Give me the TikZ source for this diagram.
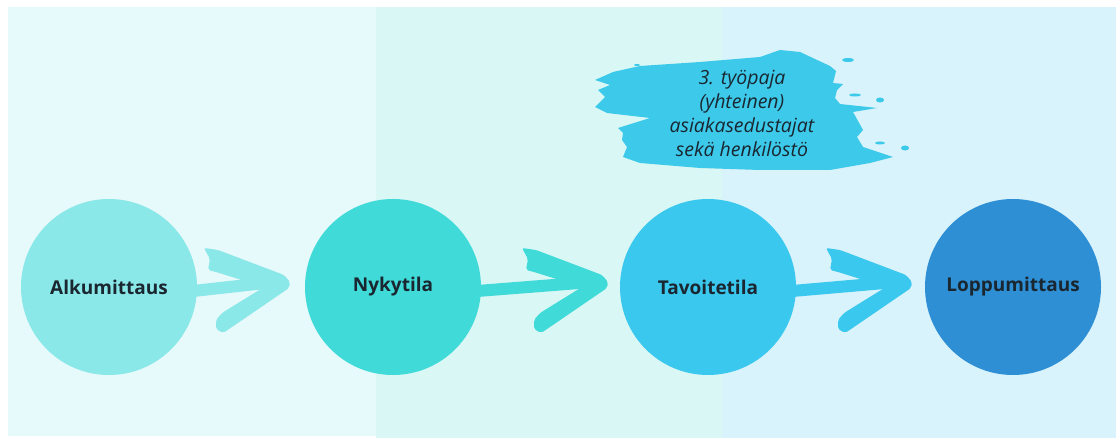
\documentclass[tikz,border=0pt]{standalone}
\usepackage{fontspec}
\setmainfont{Open Sans}
\usetikzlibrary{calc}

\definecolor{bgleft}{HTML}{E6F9FB}
\definecolor{bgmid}{HTML}{D9F7F5}
\definecolor{bgright}{HTML}{D8F3FB}
\definecolor{cone}{HTML}{8AE8E8}
\definecolor{ctwo}{HTML}{40DAD8}
\definecolor{cthree}{HTML}{3AC8EE}
\definecolor{cfour}{HTML}{2E8FD4}
\definecolor{brush}{HTML}{3CC9EA}
\definecolor{inkdark}{HTML}{1A2630}

\begin{document}
\begin{tikzpicture}[x=1pt, y=-1pt,
    phase/.style={circle, minimum size=176pt, inner sep=0pt, text=inkdark,
        font=\bfseries\fontsize{19}{22}\selectfont},
    shaft/.style={line width=12pt, line cap=round}]
    % Frame and background bands
    \useasboundingbox (0,0) rectangle (1116,438);
    \fill[white] (0,0) rectangle (1116,438);
    \fill[bgleft] (8,7) rectangle (376,436);
    \fill[bgmid] (376,7) rectangle (722,438);
    \fill[bgright] (722,7) rectangle (1116,438);

    % Circles
    \node[phase, fill=cone] (alku) at (109,287) {Alkumittaus};
    \node[phase, fill=ctwo] (nyky) at (393,287) {Nykytila};
    \node[phase, fill=cthree] (tavo) at (708,287) {Tavoitetila};
    \node[phase, fill=cfour] (loppu) at (1013,287) {Loppumittaus};

    % Brush arrows
    \foreach \a/\t/\c in {alku/286/cone, nyky/604/ctwo, tavo/908/cthree}
    {
        \coordinate (tip-\a) at (\t,283);
        \draw[shaft, \c] ($(\a.east)+(-4,4)$) -- ($(tip-\a)+(-12,-1)$);
        \fill[\c, shift={(tip-\a)}, rounded corners=2pt]
            (-82,-35) -- (-68,-33) -- (-2,-8) -- (4,-1) -- (3,5) -- (-54,44)
            -- (-63,50) -- (-70,46) -- (-70,37) -- (-64,30) -- (-22,4)
            -- (-70,-11) -- (-78,-13) -- (-76,-24) -- cycle;
    }

    % Brush stroke behind the workshop note
    \fill[brush] (613,72) -- (640,66) -- (700,62) -- (760,57) -- (780,50)
        -- (800,52) -- (830,66) -- (836,71) -- (833,83) -- (843,84) -- (837,90)
        -- (835,98) -- (840,104) -- (877,108) -- (853,112) -- (863,130)
        -- (857,137) -- (863,147) -- (893,157) -- (870,163) -- (830,170)
        -- (760,170) -- (700,168) -- (640,163) -- (623,157) -- (627,147)
        -- (622,140) -- (623,133) -- (618,128) -- (650,118) -- (607,113)
        -- (595,107) -- (605,97) -- (598,90) -- (610,85) -- (595,80) -- cycle;
    \foreach \x/\y/\rx/\ry in {848/60/6/2, 855/95/6/1.5, 880/100/4/2.5,
        880/143/5/1.5, 905/148/4/2.5, 637/65/3/1}
    {
        \fill[brush] (\x,\y) ellipse ({\rx pt} and {\ry pt});
    }
    \node[align=center, text=inkdark, font=\itshape\fontsize{19.5}{24}\selectfont]
        (note) at (742,113) {3. työpaja\\(yhteinen)\\asiakasedustajat\\sekä henkilöstö};
\end{tikzpicture}
\end{document}
